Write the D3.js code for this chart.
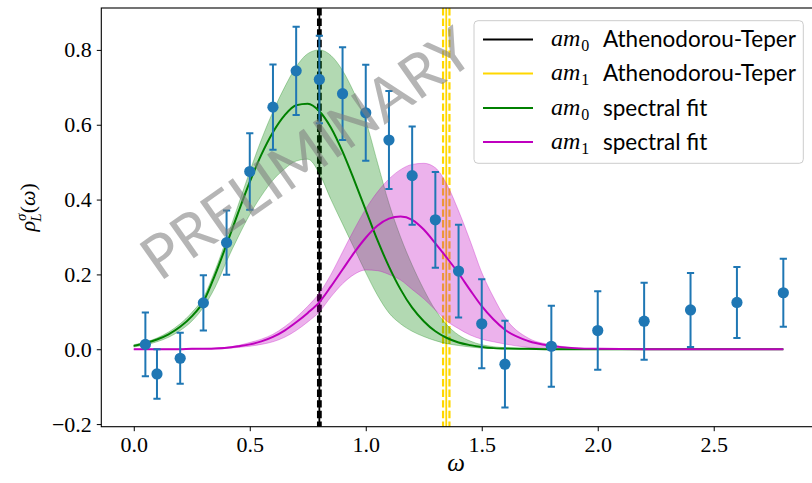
<!DOCTYPE html>
<html>
<head>
<meta charset="utf-8">
<script src="https://cdn.jsdelivr.net/npm/d3@7"></script>
<style>
  html, body { margin: 0; padding: 0; background: #fff; }
  svg { display: block; }
</style>
</head>
<body>
<svg id="chart" width="812" height="483"></svg>
<script>
// ---- lattice data: smeared spectral density rho_L^sigma(omega) ----
const omegaData = [0.05, 0.1, 0.2, 0.3, 0.4, 0.5, 0.6, 0.7, 0.8, 0.9, 1.0, 1.1, 1.2, 1.3, 1.4, 1.5, 1.6, 1.8, 2.0, 2.2, 2.4, 2.6, 2.8];
const rhoData   = [0.013, -0.066, -0.024, 0.124, 0.285, 0.475, 0.647, 0.744, 0.721, 0.683, 0.632, 0.559, 0.464, 0.346, 0.209, 0.068, -0.040, 0.008, 0.050, 0.075, 0.105, 0.125, 0.151];
const rhoErr    = [0.085, 0.066, 0.068, 0.074, 0.086, 0.102, 0.114, 0.118, 0.117, 0.124, 0.128, 0.131, 0.131, 0.128, 0.124, 0.119, 0.116, 0.108, 0.105, 0.103, 0.099, 0.095, 0.091];

// ---- spectral fit curves sampled on an omega grid ----
const omegaFit = [0, 0.1, 0.15, 0.2, 0.25, 0.3, 0.35, 0.4, 0.45, 0.5, 0.55, 0.6, 0.65, 0.7, 0.75, 0.8, 0.85, 0.9, 0.95, 1.0, 1.05, 1.1, 1.15, 1.2, 1.25, 1.3, 1.35, 1.4, 1.45, 1.5, 1.55, 1.6, 1.7, 1.8, 1.9, 2.0, 2.2, 2.4, 2.6, 2.8];
const fit0      = [0.009, 0.026, 0.040, 0.060, 0.088, 0.127, 0.198, 0.280, 0.365, 0.447, 0.520, 0.580, 0.625, 0.652, 0.656, 0.636, 0.592, 0.528, 0.452, 0.372, 0.292, 0.221, 0.160, 0.111, 0.075, 0.048, 0.030, 0.018, 0.011, 0.006, 0.003, 0.002, 0.001, 0, 0, 0, 0, 0, 0, 0];
const fit0Hi    = [0.012, 0.030, 0.046, 0.068, 0.098, 0.138, 0.210, 0.295, 0.385, 0.475, 0.560, 0.635, 0.700, 0.755, 0.790, 0.800, 0.785, 0.745, 0.685, 0.610, 0.500, 0.390, 0.300, 0.225, 0.160, 0.105, 0.065, 0.038, 0.022, 0.012, 0.007, 0.004, 0.001, 0, 0, 0, 0, 0, 0, 0];
const fit0Lo    = [0.006, 0.020, 0.032, 0.050, 0.075, 0.112, 0.165, 0.235, 0.300, 0.360, 0.410, 0.452, 0.482, 0.503, 0.508, 0.470, 0.400, 0.335, 0.270, 0.205, 0.145, 0.097, 0.068, 0.048, 0.034, 0.023, 0.015, 0.010, 0.006, 0.003, 0.002, 0.001, 0, 0, 0, 0, 0, 0, 0, 0];
const fit1      = [0, 0, 0, 0, 0.001, 0.001, 0.002, 0.004, 0.008, 0.013, 0.021, 0.033, 0.050, 0.072, 0.097, 0.126, 0.168, 0.213, 0.258, 0.298, 0.330, 0.349, 0.355, 0.346, 0.320, 0.283, 0.244, 0.203, 0.158, 0.115, 0.080, 0.052, 0.022, 0.009, 0.003, 0.001, 0, 0, 0, 0];
const fit1Hi    = [0, 0, 0, 0, 0.001, 0.002, 0.003, 0.005, 0.010, 0.018, 0.027, 0.040, 0.060, 0.085, 0.115, 0.150, 0.200, 0.260, 0.320, 0.375, 0.420, 0.455, 0.480, 0.494, 0.497, 0.485, 0.440, 0.370, 0.290, 0.205, 0.140, 0.085, 0.030, 0.012, 0.004, 0.001, 0, 0, 0, 0];
const fit1Lo    = [0, 0, 0, 0, 0, 0.001, 0.001, 0.002, 0.005, 0.008, 0.013, 0.020, 0.032, 0.050, 0.073, 0.100, 0.140, 0.175, 0.200, 0.212, 0.210, 0.200, 0.185, 0.160, 0.135, 0.105, 0.075, 0.055, 0.038, 0.027, 0.020, 0.014, 0.005, 0.002, 0, 0, 0, 0, 0, 0];

// ---- reference masses (vertical markers) ----
const massValues = [0.800, 1.347];
const massErrors = [0.0056, 0.0138];

// ---- axes ticks and legend ----
const xTicks = [0.0, 0.5, 1.0, 1.5, 2.0, 2.5];
const yTicks = [-0.2, 0.0, 0.2, 0.4, 0.6, 0.8];
const legendSub  = ["0", "1", "0", "1"];
const legendText = ["Athenodorou-Teper", "Athenodorou-Teper", "spectral fit", "spectral fit"];
const legendColors = ["#000000", "#ffd700", "#008000", "#bf00bf"];

// ---- layout ----
const svg = d3.select("#chart");
const plot = { left: 101.3, right: 815.8, top: 8, bottom: 426.7 };

const x = d3.scaleLinear().domain([-0.14, 2.94]).range([plot.left, plot.right]);
const y = d3.scaleLinear().domain([-0.207, 0.912]).range([plot.bottom, plot.top]);

const tickFont = "'Liberation Serif', 'DejaVu Serif', serif";
const sansFont = "Lato, 'Open Sans', 'DejaVu Sans', sans-serif";

svg.append("defs").append("clipPath").attr("id", "plotclip")
  .append("rect")
  .attr("x", plot.left).attr("y", plot.top)
  .attr("width", plot.right - plot.left).attr("height", plot.bottom - plot.top);

const g = svg.append("g").attr("clip-path", "url(#plotclip)");

// vertical markers: solid line at the value, dashed lines at +/- error
const vColors = ["#000000", "#ffd700"];
massValues.forEach((m, i) => {
  const e = massErrors[i];
  [m - e, m + e].forEach(v => {
    g.append("line")
      .attr("x1", x(v)).attr("x2", x(v))
      .attr("y1", plot.top).attr("y2", plot.bottom)
      .attr("stroke", vColors[i]).attr("stroke-width", 2.2)
      .attr("stroke-dasharray", "7.4,3.2");
  });
  g.append("line")
    .attr("x1", x(m)).attr("x2", x(m))
    .attr("y1", plot.top).attr("y2", plot.bottom)
    .attr("stroke", vColors[i]).attr("stroke-width", 1.8);
});

// uncertainty bands
const band = (hi, lo) => d3.area()
  .x((d, i) => x(omegaFit[i]))
  .y0((d, i) => y(lo[i]))
  .y1((d, i) => y(hi[i]))
  .curve(d3.curveMonotoneX);

g.append("path").datum(omegaFit)
  .attr("d", band(fit0Hi, fit0Lo))
  .attr("fill", "#008000").attr("fill-opacity", 0.3)
  .attr("stroke", "#008000").attr("stroke-opacity", 0.3).attr("stroke-width", 1);

g.append("path").datum(omegaFit)
  .attr("d", band(fit1Hi, fit1Lo))
  .attr("fill", "#bf00bf").attr("fill-opacity", 0.3)
  .attr("stroke", "#bf00bf").attr("stroke-opacity", 0.3).attr("stroke-width", 1);

// central fit curves
const line = vals => d3.line()
  .x((d, i) => x(omegaFit[i]))
  .y((d, i) => y(vals[i]))
  .curve(d3.curveMonotoneX);

g.append("path").datum(omegaFit).attr("d", line(fit0))
  .attr("fill", "none").attr("stroke", "#008000").attr("stroke-width", 2);
g.append("path").datum(omegaFit).attr("d", line(fit1))
  .attr("fill", "none").attr("stroke", "#bf00bf").attr("stroke-width", 2);

// error bars with points
const blue = "#1f77b4";
const eb = g.append("g");
omegaData.forEach((w, i) => {
  const cx = x(w), hi = y(rhoData[i] + rhoErr[i]), lo = y(rhoData[i] - rhoErr[i]);
  eb.append("line").attr("x1", cx).attr("x2", cx).attr("y1", hi).attr("y2", lo)
    .attr("stroke", blue).attr("stroke-width", 2);
  [hi, lo].forEach(cy => eb.append("line")
    .attr("x1", cx - 3.6).attr("x2", cx + 3.6).attr("y1", cy).attr("y2", cy)
    .attr("stroke", blue).attr("stroke-width", 2));
  eb.append("circle").attr("cx", cx).attr("cy", y(rhoData[i])).attr("r", 5.6)
    .attr("fill", blue);
});

// watermark
svg.append("text")
  .attr("transform", `translate(${x(0.74)},${y(0.527)}) rotate(-35)`)
  .attr("text-anchor", "middle").attr("dominant-baseline", "central")
  .attr("font-family", sansFont).attr("font-size", 60)
  .attr("fill", "#808080").attr("fill-opacity", 0.58)
  .text("PRELIMINARY");

// axes
const xAxis = d3.axisBottom(x).tickValues(xTicks).tickFormat(d3.format(".1f")).tickSize(4.5).tickPadding(5);
const yAxis = d3.axisLeft(y).tickValues(yTicks).tickFormat(d => d3.format(".1f")(d).replace("-", "\u2212")).tickSize(4.5).tickPadding(5);

const gx = svg.append("g").attr("transform", `translate(0,${plot.bottom})`).call(xAxis);
const gy = svg.append("g").attr("transform", `translate(${plot.left},0)`).call(yAxis);
[gx, gy].forEach(a => {
  a.select(".domain").remove();
  a.selectAll(".tick line").attr("stroke", "#000").attr("stroke-width", 1);
  a.selectAll(".tick text").attr("font-family", tickFont).attr("font-size", 22).attr("fill", "#000");
});

// spines
svg.append("rect")
  .attr("x", plot.left).attr("y", plot.top)
  .attr("width", plot.right - plot.left).attr("height", plot.bottom - plot.top)
  .attr("fill", "none").attr("stroke", "#000").attr("stroke-width", 1.1);

// axis labels
svg.append("text")
  .attr("x", 456).attr("y", 471)
  .attr("text-anchor", "middle")
  .attr("font-family", tickFont).attr("font-style", "italic").attr("font-size", 25)
  .text("\u03c9");

const yl = svg.append("text")
  .attr("transform", `translate(35,${(plot.top + plot.bottom) / 2 - 10}) rotate(-90)`)
  .attr("text-anchor", "middle")
  .attr("font-family", tickFont).attr("font-size", 22);
yl.append("tspan").attr("font-style", "italic").text("\u03c1");
yl.append("tspan").attr("font-style", "italic").attr("font-size", 15).attr("dy", -9).text("\u03c3");
yl.append("tspan").attr("font-style", "italic").attr("font-size", 15).attr("dx", -8).attr("dy", 15).text("L");
yl.append("tspan").attr("dy", -6).text("(");
yl.append("tspan").attr("font-style", "italic").text("\u03c9");
yl.append("tspan").text(")");

// legend
const lg = svg.append("g");
lg.append("rect")
  .attr("x", 474).attr("y", 20.7).attr("width", 329.3).attr("height", 142.6)
  .attr("rx", 4).attr("fill", "#fff").attr("fill-opacity", 0.8)
  .attr("stroke", "#cccccc").attr("stroke-width", 1);
const rowY = [39.5, 73.5, 108, 142];
legendText.forEach((t, i) => {
  lg.append("line")
    .attr("x1", 483).attr("x2", 533).attr("y1", rowY[i]).attr("y2", rowY[i])
    .attr("stroke", legendColors[i]).attr("stroke-width", 2);
  const mt = lg.append("text").attr("x", 551).attr("y", rowY[i] + 6.5)
    .attr("font-family", tickFont).attr("font-size", 24).attr("fill", "#000");
  mt.append("tspan").attr("font-style", "italic").text("am");
  mt.append("tspan").attr("font-size", 16).attr("dy", 5).attr("dx", 1).text(legendSub[i]);
  lg.append("text").attr("x", 603).attr("y", rowY[i] + 7.5)
    .attr("font-family", sansFont).attr("font-size", 22.5).attr("fill", "#000")
    .text(t);
});
</script>
</body>
</html>
